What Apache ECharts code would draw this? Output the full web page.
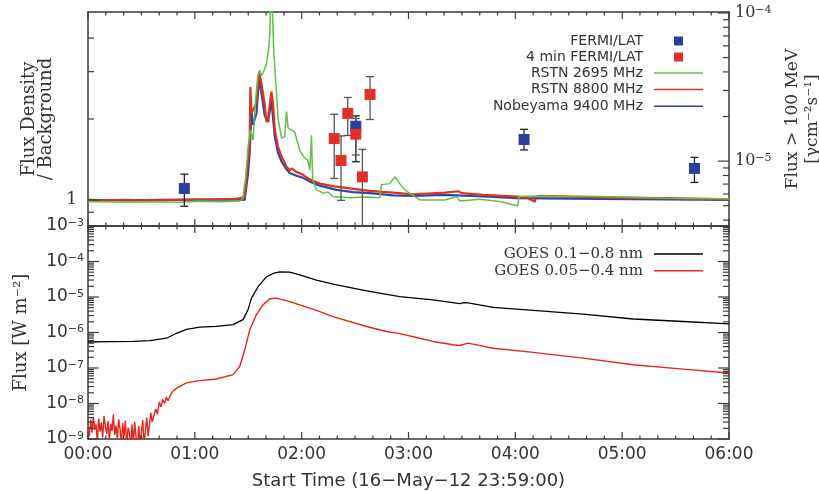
<!DOCTYPE html>
<html><head><meta charset="utf-8">
<script src="https://cdn.jsdelivr.net/npm/echarts@6/dist/echarts.min.js"></script>
<style>html,body{margin:0;padding:0;background:#fff}#c{width:819px;height:491px}</style>
</head><body><div id="c"></div>
<script>
// ---------- DATA (time in minutes after start) ----------
const hourTicks = ['00:00','01:00','02:00','03:00','04:00','05:00','06:00'];
const hourTickValues = [0, 60, 120, 180, 240, 300, 360];
const radioTickValues = [0.9, 1, 2, 3, 4];
const radioTickLabels = [1];
const lat100Decades = [-5, -4];
const goesDecades = [-9, -8, -7, -6, -5, -4, -3];

const rstn2695Time = [0,20,34.7,50,62.8,75,85.2,86.9,88.6,89.9,91.2,92.7,94,95.3,96.5,97.4,98.3,100.2,101.4,102.1,102.6,103.6,104.3,105.5,106.7,108.7,110.5,111.5,112.4,113.3,116.1,118.9,121.7,123.4,124.6,125.5,126.2,128.3,132.0,134.8,137.5,147.0,156.4,163.9,164.8,169.5,172.3,175.1,177.9,182.4,186.4,200.4,207.0,208.8,220.1,231.3,241.4,242.0,253.8,287.5,325.0,360];
const rstn2695Flux = [0.985,0.982,0.985,0.98,0.988,0.985,0.99,1.01,1.22,1.58,1.82,1.67,2.3,2.87,3.04,2.9,2.96,3.22,3.6,4.16,5.6,4.94,3.61,2.71,2.01,1.70,1.72,2.13,1.85,1.85,1.79,1.53,1.43,1.41,1.29,1.74,1.19,1.09,1.06,1.07,1.03,1.02,1.025,1.02,1.14,1.15,1.22,1.15,1.09,1.04,1.0,1.0,1.03,0.99,1.006,0.986,0.95,1.03,1.035,1.03,1.015,1.01];

const rstn8800Time = [0,10,20,34.8,50,62.9,75,82.6,86,88.0,89.9,90.8,91.2,91.8,92.7,94.6,96.1,97.4,99.3,100.2,101.1,103.0,103.9,104.9,106.7,108.7,111.5,113.3,114.5,117.1,120.8,124.6,125.5,130.2,139.6,148.9,158.3,171.3,182.6,200.4,207.9,210,221.9,240.7,246.3,251.0,251.5,253.8,287.5,324.9,360];
const rstn8800Flux = [1.0,0.995,1.0,0.996,1.0,1.004,1.006,1.009,1.015,1.03,1.41,1.63,2.63,2.1,2.10,2.29,3.0,2.71,2.25,1.95,2.0,2.53,2.29,1.82,1.58,1.45,1.33,1.29,1.31,1.27,1.24,1.19,1.2,1.15,1.12,1.10,1.08,1.065,1.05,1.065,1.077,1.06,1.044,1.029,1.02,0.985,1.03,1.035,1.023,1.015,1.006];

const noby9400Time = [0,20,40,62.9,82.6,88.0,89.9,90.8,91.8,92.7,94.6,96.1,97.4,99.3,100.2,101.1,103.0,104.9,106.7,108.7,111.5,113.3,117.1,120.8,124.6,130.2,139.6,148.9,158.3,171.3,182.6,200.4,221.9,240.7,287.5,324.9,360];
const noby9400Flux = [1.0,0.995,1.0,1.003,1.005,1.0,1.26,1.5,2.16,1.9,2.1,2.83,2.5,2.05,2.01,1.95,2.35,1.72,1.5,1.39,1.30,1.26,1.23,1.21,1.17,1.13,1.09,1.07,1.06,1.04,1.035,1.044,1.03,1.015,1.009,1.004,1.0];

const latTime = [54.1, 150.4, 244.9, 340.6];
const latFlux = [6.54e-6, 1.72e-5, 1.40e-5, 8.93e-6];
const latLow  = [4.96e-6, 9.9e-6, 1.19e-5, 7.18e-6];
const latHigh = [8.17e-6, 2.02e-5, 1.64e-5, 1.06e-5];

const lat4Time = [138.3, 142.1, 145.9, 150.4, 154.1, 158.4];
const lat4Flux = [1.42e-5, 1.01e-5, 2.10e-5, 1.52e-5, 7.83e-6, 2.82e-5];
const lat4Low  = [7.64e-6, 5.44e-6, 1.49e-5, 1.10e-5, 2.0e-6, 1.91e-5];
const lat4High = [2.07e-5, 1.48e-5, 2.69e-5, 1.94e-5, 1.20e-5, 3.72e-5];

const goesLongTime = [0,12,25.3,34.7,44.1,49.7,55.3,62.8,72.1,81.5,87.1,89.9,91.8,95.5,100.2,104,107.7,113.3,118.9,128.3,137.6,156.4,175.1,193.8,208.8,211,213.5,227.5,250.0,278.1,306.2,334.3,360];
const goesLongFlux = [5.4e-7,5.5e-7,5.6e-7,5.9e-7,6.9e-7,9.5e-7,1.23e-6,1.41e-6,1.48e-6,1.66e-6,2.3e-6,4.4e-6,9.3e-6,1.95e-5,3.7e-5,4.6e-5,5.1e-5,5.0e-5,4.2e-5,3.0e-5,2.3e-5,1.48e-5,1.02e-5,8.3e-6,6.5e-6,6.9e-6,6.8e-6,5.1e-6,4.2e-6,3.3e-6,2.4e-6,2.04e-6,1.74e-6];

const goesShortTime = [0,0.75,1.5,2.25,3,3.75,4.5,5.25,6,6.75,7.5,8.25,9,9.75,10.5,11.25,12,12.75,13.5,14.25,15,15.75,16.5,17.25,18,18.75,19.5,20.25,21,21.75,22.5,23.25,24,24.75,25.5,26.25,27,27.75,28.5,29.25,30,30.75,31.5,32.25,33,33.75,34.5,35.25,36,37,38,39,40,41,42,43,44,45,46,47,48,49.7,55.3,62.8,72.1,81.5,85.2,88.0,90.8,94.6,98.3,102.1,105.8,113.3,118.9,128.3,137.6,156.4,167.6,175.1,186.4,193.8,205.1,208.8,213.5,227.5,250.0,278.1,306.2,334.3,360];
const goesShortFlux = [2.0e-9,1.2e-9,3.5e-9,1.5e-9,4.2e-9,1.8e-9,2.6e-9,0.8e-9,3.8e-9,1.6e-9,2.9e-9,1.1e-9,4.5e-9,2.2e-9,1.4e-9,3.2e-9,0.9e-9,2.7e-9,1.7e-9,5.0e-9,1.3e-9,2.4e-9,1.0e-9,3.6e-9,1.9e-9,0.7e-9,2.8e-9,1.2e-9,3.3e-9,0.6e-9,2.1e-9,1.5e-9,0.5e-9,2.6e-9,0.8e-9,3.0e-9,1.1e-9,0.6e-9,2.3e-9,0.7e-9,1.6e-9,3.4e-9,0.6e-9,1.8e-9,4.0e-9,1.2e-9,2.5e-9,5.5e-9,3.0e-9,4.5e-9,7e-9,5e-9,1.1e-8,8e-9,1.3e-8,1.0e-8,1.5e-8,1.2e-8,1.6e-8,2.0e-8,2.3e-8,2.7e-8,3.8e-8,4.4e-8,4.9e-8,6.5e-8,1.1e-7,3.2e-7,1.17e-6,3.2e-6,6.0e-6,8.9e-6,9.3e-6,7.4e-6,6.0e-6,4.2e-6,2.8e-6,1.48e-6,1.07e-6,9.3e-7,6.9e-7,5.6e-7,4.5e-7,4.3e-7,5.0e-7,3.6e-7,2.75e-7,1.9e-7,1.23e-7,9.3e-8,7.2e-8];

// ---------- CHART ----------
const zip = (a, b) => a.map((t, i) => [t, b[i]]);
const L = Math.log10;
const AX = '#3a3a3a', TXT = '#333';
const SANS = 'DejaVu Sans', SERIF = 'DejaVu Serif';
const RAD_MIN = 0.8, RAD_MAX = 5, LAT_MIN = 3.65e-6, LAT_MAX = 1.015e-4, G_MIN = 1e-9, G_MAX = 1e-3;

function minorLogValues(lo, hi) {
  const out = [];
  for (let n = Math.floor(L(lo)) - 1; n <= Math.ceil(L(hi)); n++)
    for (let k = 2; k <= 9; k++) { const v = k * Math.pow(10, n); if (v > lo && v < hi) out.push(v); }
  return out;
}
function minorTimeValues() {
  const out = [];
  for (let i = 0; i + 1 < hourTickValues.length; i++)
    for (let k = 1; k < 6; k++) out.push(hourTickValues[i] + k * 10);
  return out;
}

function xAx(grid, pos, labels, name) {
  const ax = {
    type: 'value', gridIndex: grid, position: pos, min: 0, max: 360, interval: 60,
    axisLine: { show: true, onZero: false, lineStyle: { color: AX, width: 1.5 } },
    axisTick: { show: false }, minorTick: { show: false },
    splitLine: { show: false }, minorSplitLine: { show: false },
    axisLabel: { show: labels, margin: 7, color: TXT, fontFamily: SANS, fontSize: 17,
      formatter: v => hourTicks[hourTickValues.indexOf(Math.round(v))] || '' }
  };
  if (name) {
    ax.name = name; ax.nameLocation = 'middle'; ax.nameGap = 33;
    ax.nameTextStyle = { color: TXT, fontFamily: SANS, fontSize: 18 };
  }
  return ax;
}
function dataAx(grid, pos, min, max) {
  return { type: 'log', gridIndex: grid, position: pos, min: min, max: max,
    axisLine: { show: false, onZero: false }, axisTick: { show: false }, axisLabel: { show: false },
    splitLine: { show: false } };
}
function labAx(grid, pos, min, max, labelVals, fmt, labelStyle, margin, name, nameStyle, nameGap) {
  const ax = {
    type: 'value', gridIndex: grid, position: pos, min: min, max: max,
    axisLine: { show: true, onZero: false, lineStyle: { color: AX, width: 1.5 } },
    axisTick: { show: false }, splitLine: { show: false },
    axisLabel: labelVals ? Object.assign({ show: true, customValues: labelVals, formatter: fmt, margin: margin }, labelStyle) : { show: false }
  };
  if (name) {
    ax.name = name; ax.nameLocation = 'middle'; ax.nameRotate = 90; ax.nameGap = nameGap;
    ax.nameTextStyle = nameStyle;
  }
  return ax;
}

const supRich = (fam, big, small) => ({
  b: { fontFamily: fam, fontSize: big, color: TXT, lineHeight: big, verticalAlign: 'bottom' },
  s: { fontFamily: fam, fontSize: small, color: TXT, lineHeight: small, verticalAlign: 'top', padding: [0, 0, 9, 0] }
});
const powFmt = v => '{b|10}{s|\u2212' + Math.abs(Math.round(v)) + '}';

const xAxis = [
  xAx(0, 'bottom', false), xAx(0, 'top', false),
  xAx(1, 'bottom', true, 'Start Time (16\u2212May\u221212 23:59:00)'), xAx(1, 'top', false)
];
const yAxis = [
  labAx(0, 'left', L(RAD_MIN), L(RAD_MAX), radioTickLabels.map(L),
    v => String(Math.round(Math.pow(10, v))), { color: TXT, fontFamily: SERIF, fontSize: 17 }, 11,
    'Flux Density\n/ Background', { color: TXT, fontFamily: SERIF, fontSize: 18, lineHeight: 17 }, 30), //0
  labAx(0, 'right', L(LAT_MIN), L(LAT_MAX), lat100Decades, powFmt, { rich: supRich(SERIF, 16, 11) }, 6,
    'Flux > 100 MeV\n[\u03B3cm\u207B\u00B2s\u207B\u00B9]', { color: TXT, fontFamily: SERIF, fontSize: 17, lineHeight: 20 }, 54), //1
  dataAx(0, 'left', RAD_MIN, RAD_MAX),              //2
  dataAx(0, 'right', LAT_MIN, LAT_MAX),             //3
  labAx(1, 'left', -9, -3, goesDecades, powFmt, { rich: supRich(SANS, 17, 11) }, 4,
    'Flux [W m\u207B\u00B2]', { color: TXT, fontFamily: SERIF, fontSize: 18 }, 58), //4
  labAx(1, 'right', -9, -3),                        //5
  dataAx(1, 'left', G_MIN, G_MAX)                   //6
];
const Y_RAD = 2, Y_LAT = 3, Y_GOES = 6;

// ---- tick marks drawn through the axes' scales (custom series) ----
// datum: [value, length, side(0 bottom,1 top,2 left,3 right), xAnchor, yAnchor]
function tickData(xMajor, xMinor, yLeftMajor, yLeftMinor, yRightMajor, yRightMinor, yMid) {
  const d = [];
  [0, 1].forEach(side => {
    (xMajor || []).forEach(v => d.push([v, 7, side, v, yMid]));
    (xMinor || []).forEach(v => d.push([v, 3.5, side, v, yMid]));
  });
  (yLeftMajor || []).forEach(v => d.push([v, 11, 2, 180, v]));
  (yLeftMinor || []).forEach(v => d.push([v, 6, 2, 180, v]));
  (yRightMajor || []).forEach(v => d.push([v, 11, 3, 180, v]));
  (yRightMinor || []).forEach(v => d.push([v, 6, 3, 180, v]));
  return d;
}
function tickSeries(xi, yi, data) {
  return {
    type: 'custom', xAxisIndex: xi, yAxisIndex: yi, clip: false, silent: true, z: 10,
    data: data, encode: { x: 3, y: 4 },
    renderItem: (params, api) => {
      const cs = params.coordSys;
      const len = api.value(1), side = Math.round(api.value(2));
      const p = api.coord([api.value(3), api.value(4)]);
      let shape;
      if (side === 0) shape = { x1: p[0], y1: cs.y + cs.height, x2: p[0], y2: cs.y + cs.height - len };
      else if (side === 1) shape = { x1: p[0], y1: cs.y, x2: p[0], y2: cs.y + len };
      else if (side === 2) shape = { x1: cs.x, y1: p[1], x2: cs.x + len, y2: p[1] };
      else shape = { x1: cs.x + cs.width, y1: p[1], x2: cs.x + cs.width - len, y2: p[1] };
      return { type: 'line', shape: shape, style: { stroke: AX, lineWidth: 1.2 } };
    }
  };
}
const timeMinor = minorTimeValues();
const goesMajorVals = goesDecades.map(n => Math.pow(10, n));
const goesMinorVals = minorLogValues(G_MIN, G_MAX);
const radMajorVals = radioTickValues.filter(v => v === 1);
const radMinorVals = radioTickValues.filter(v => v !== 1);
const latMajorVals = lat100Decades.map(n => Math.pow(10, n));
const latMinorVals = minorLogValues(LAT_MIN, LAT_MAX);

const C_GREEN = '#5cc34a', C_RED = '#e2301f', C_BLUE = '#2f46a6', C_SQB = '#2b3f9e', C_SQR = '#e0302a';

function errSeries(t, lo, hi, color) {
  return {
    type: 'custom', xAxisIndex: 0, yAxisIndex: Y_LAT, clip: true, silent: true, z: 3,
    data: t.map((x, i) => [x, lo[i], hi[i]]),
    encode: { x: 0, y: [1, 2] },
    renderItem: (params, api) => {
      const x = api.value(0);
      const a = api.coord([x, api.value(2)]), b = api.coord([x, api.value(1)]);
      const w = 4, st = { stroke: color, lineWidth: 1.3 };
      return { type: 'group', children: [
        { type: 'line', shape: { x1: a[0], y1: a[1], x2: b[0], y2: b[1] }, style: st },
        { type: 'line', shape: { x1: a[0] - w, y1: a[1], x2: a[0] + w, y2: a[1] }, style: st },
        { type: 'line', shape: { x1: b[0] - w, y1: b[1], x2: b[0] + w, y2: b[1] }, style: st }
      ] };
    }
  };
}

const lineS = (name, t, v, color, xi, yi, w, z) => ({
  name: name, type: 'line', xAxisIndex: xi, yAxisIndex: yi, data: zip(t, v),
  symbol: 'none', showSymbol: false, color: color, lineStyle: { color: color, width: w },
  z: z, clip: true
});

const option = {
  animation: false,
  grid: [
    { left: 88, right: 90, top: 12, height: 214, outerBoundsMode: 'none', containLabel: false },
    { left: 88, right: 90, top: 226, height: 213, outerBoundsMode: 'none', containLabel: false }
  ],
  xAxis: xAxis, yAxis: yAxis,
  legend: [
    { data: ['FERMI/LAT', '4 min FERMI/LAT'], orient: 'vertical', align: 'right', right: 136, top: 33,
      icon: 'rect', itemWidth: 9, itemHeight: 9, itemGap: 0, padding: 0, selectedMode: false,
      itemStyle: { opacity: 1 },
      textStyle: { fontFamily: SANS, fontSize: 14, color: TXT, lineHeight: 16, padding: [0, 26, 0, 0] } },
    { data: ['RSTN 2695 MHz', 'RSTN 8800 MHz', 'Nobeyama 9400 MHz'], orient: 'vertical', align: 'right', right: 116, top: 65,
      icon: 'rect', itemWidth: 49, itemHeight: 1.5, itemGap: 0.6, padding: 0, selectedMode: false,
      textStyle: { fontFamily: SANS, fontSize: 14, color: TXT, lineHeight: 16, padding: [0, 6, 0, 0] } },
    { data: ['GOES 0.1\u22120.8 nm', 'GOES 0.05\u22120.4 nm'], orient: 'vertical', align: 'right', right: 116, top: 246,
      icon: 'rect', itemWidth: 49, itemHeight: 1.5, itemGap: 0.7, padding: 0, selectedMode: false,
      textStyle: { fontFamily: SERIF, fontSize: 15, color: TXT, lineHeight: 16, padding: [0, 6, 0, 0] } }
  ],
  series: [
    lineS('Nobeyama 9400 MHz', noby9400Time, noby9400Flux, C_BLUE, 0, Y_RAD, 2.2, 2),
    lineS('RSTN 8800 MHz', rstn8800Time, rstn8800Flux, C_RED, 0, Y_RAD, 2.2, 2),
    lineS('RSTN 2695 MHz', rstn2695Time, rstn2695Flux, C_GREEN, 0, Y_RAD, 1.5, 2),
    errSeries(latTime, latLow, latHigh, '#222'),
    errSeries(lat4Time, lat4Low, lat4High, '#555'),
    { name: 'FERMI/LAT', type: 'scatter', xAxisIndex: 0, yAxisIndex: Y_LAT, data: zip(latTime, latFlux),
      symbol: 'rect', symbolSize: 11, color: C_SQB, itemStyle: { color: C_SQB, opacity: 1 }, z: 4 },
    { name: '4 min FERMI/LAT', type: 'scatter', xAxisIndex: 0, yAxisIndex: Y_LAT, data: zip(lat4Time, lat4Flux),
      symbol: 'rect', symbolSize: 11, color: C_SQR, itemStyle: { color: C_SQR, opacity: 1 }, z: 4 },
    lineS('GOES 0.1\u22120.8 nm', goesLongTime, goesLongFlux, '#000', 2, Y_GOES, 1.3, 2),
    lineS('GOES 0.05\u22120.4 nm', goesShortTime, goesShortFlux, '#e3261b', 2, Y_GOES, 1.4, 2),
    tickSeries(0, Y_RAD, tickData(hourTickValues, timeMinor, radMajorVals, radMinorVals, null, null, 1.5)),
    tickSeries(0, Y_LAT, tickData(null, null, null, null, latMajorVals, latMinorVals, 1e-5)),
    tickSeries(2, Y_GOES, tickData(hourTickValues, timeMinor, goesMajorVals, goesMinorVals, goesMajorVals, goesMinorVals, 1e-6))
  ]
};

const chart = echarts.init(document.getElementById('c'));
chart.setOption(option);
</script></body></html>
